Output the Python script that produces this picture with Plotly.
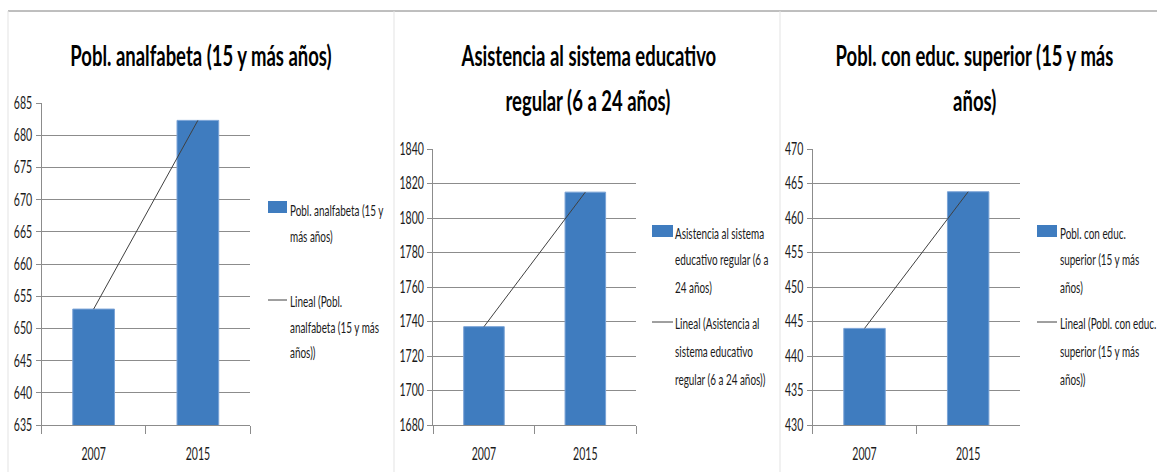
import numpy as np
import plotly.graph_objects as go

# ---------------- data ----------------
categories = ["2007", "2015"]

titles = [
    ["Pobl. analfabeta (15 y más años)"],
    ["Asistencia al sistema educativo", "regular (6 a 24 años)"],
    ["Pobl. con educ. superior (15 y más", "años)"],
]

analfabeta = [653.0, 682.3]
asistencia = [1737.0, 1815.0]
superior = [444.0, 463.8]

series_values = [analfabeta, asistencia, superior]

bar_legend_lines = [
    ["Pobl. analfabeta (15 y", "más años)"],
    ["Asistencia al sistema", "educativo regular (6 a", "24 años)"],
    ["Pobl. con educ.", "superior (15 y más", "años)"],
]
trend_legend_lines = [
    ["Lineal (Pobl.", "analfabeta (15 y más", "años))"],
    ["Lineal (Asistencia al", "sistema educativo", "regular (6 a 24 años))"],
    ["Lineal (Pobl. con educ.", "superior (15 y más", "años))"],
]

y_ranges = [[635, 685], [1680, 1840], [430, 470]]
y_dticks = [5, 20, 5]

# ---------------- layout helpers ----------------
W, H = 1157, 472
FONT = "Lato, Liberation Sans, Arial, sans-serif"
BAR = "#3F7CBF"
GRID = "#8C8C8C"
TXT = "#1A1A1A"


def px(x):
    return x / W


def py(y):
    return 1 - y / H


x_doms = [(41.5, 250), (433.3, 636), (812.7, 1020)]
y_tops = [103, 149, 149]
y_bottom = 425

title_cx = [201, 588, 975]
title_ys = [[55], [55, 100], [55, 100]]

legend_sw_x = [(268, 287), (652, 673), (1037, 1057)]
legend_txt_x = [288, 673, 1058]
bar_sw_y = [(201, 213), (225, 237), (225, 237)]
bar_txt_y = [[210, 235], [232, 258, 286], [232, 258, 286]]
trend_sw_y = [300, 322, 322]
trend_txt_y = [[300, 326, 351], [322, 350, 378], [322, 350, 378]]

fig = go.Figure()
annotations = []
shapes = []

for i in range(3):
    sfx = "" if i == 0 else str(i + 1)
    xa, ya = "x" + sfx, "y" + sfx
    vals = series_values[i]

    fig.add_trace(go.Bar(
        x=categories, y=vals, xaxis=xa, yaxis=ya,
        marker=dict(color=BAR, line=dict(color="#7AA3D6", width=1)),
        showlegend=False, hoverinfo="x+y",
    ))

    # linear trend line fitted from the data
    xi = np.arange(len(categories))
    coef = np.polyfit(xi, np.array(vals, dtype=float), 1)
    trend = np.polyval(coef, xi)
    fig.add_trace(go.Scatter(
        x=categories, y=trend, xaxis=xa, yaxis=ya, mode="lines",
        line=dict(color="#404040", width=1), showlegend=False,
    ))

    fig.layout["xaxis" + sfx] = dict(
        domain=[px(x_doms[i][0]), px(x_doms[i][1])],
        anchor=ya, type="category", automargin=False,
        showline=True, linecolor=GRID, linewidth=1,
        showgrid=False, ticks="outside", tickson="boundaries",
        ticklen=8, tickcolor=GRID, ticklabelstandoff=14,
        tickfont=dict(family=FONT, size=17, color=TXT),
        fixedrange=True,
    )
    fig.layout["yaxis" + sfx] = dict(
        domain=[py(y_bottom), py(y_tops[i])],
        anchor=xa, range=y_ranges[i], dtick=y_dticks[i], tick0=y_ranges[i][0],
        automargin=False,
        showline=True, linecolor=GRID, linewidth=1,
        showgrid=True, gridcolor=GRID, gridwidth=1, zeroline=False,
        ticks="outside", ticklen=5, tickcolor=GRID,
        tickfont=dict(family=FONT, size=17, color=TXT),
        fixedrange=True,
    )

    for line, yy in zip(titles[i], title_ys[i]):
        annotations.append(dict(
            text="<b>" + line + "</b>", xref="paper", yref="paper",
            x=px(title_cx[i]), y=py(yy), xanchor="center", yanchor="middle",
            showarrow=False, font=dict(family=FONT, size=28, color="#000000"),
        ))

    shapes.append(dict(
        type="rect", xref="paper", yref="paper",
        x0=px(legend_sw_x[i][0]), x1=px(legend_sw_x[i][1]),
        y0=py(bar_sw_y[i][1]), y1=py(bar_sw_y[i][0]),
        fillcolor=BAR, line=dict(width=0),
    ))
    for line, yy in zip(bar_legend_lines[i], bar_txt_y[i]):
        annotations.append(dict(
            text=line, xref="paper", yref="paper", align="left",
            x=px(legend_txt_x[i]), y=py(yy), xanchor="left", yanchor="middle",
            showarrow=False, font=dict(family=FONT, size=16, color=TXT),
        ))
    shapes.append(dict(
        type="line", xref="paper", yref="paper",
        x0=px(legend_sw_x[i][0]), x1=px(legend_sw_x[i][1]),
        y0=py(trend_sw_y[i]), y1=py(trend_sw_y[i]),
        line=dict(color="#404040", width=1),
    ))
    for line, yy in zip(trend_legend_lines[i], trend_txt_y[i]):
        annotations.append(dict(
            text=line, xref="paper", yref="paper", align="left",
            x=px(legend_txt_x[i]), y=py(yy), xanchor="left", yanchor="middle",
            showarrow=False, font=dict(family=FONT, size=16, color=TXT),
        ))

shapes.append(dict(type="line", xref="paper", yref="paper",
                   x0=px(8), x1=1, y0=py(11), y1=py(11),
                   line=dict(color="#7F7F7F", width=1)))
for xv in (8, 394, 780):
    shapes.append(dict(type="line", xref="paper", yref="paper",
                       x0=px(xv), x1=px(xv), y0=py(11), y1=0,
                       line=dict(color="#E3E3E3", width=1)))

fig.update_layout(
    template="none",
    width=W, height=H, autosize=False,
    margin=dict(l=0, r=0, t=0, b=0, pad=0, autoexpand=False),
    paper_bgcolor="white", plot_bgcolor="white",
    bargap=0.6, showlegend=False,
    annotations=annotations, shapes=shapes,
    font=dict(family=FONT, color=TXT),
)

POST = """
document.documentElement.style.margin='0';
document.body.style.margin='0';
document.body.style.overflow='hidden';
var gd=document.getElementById('{plot_id}');
function squish(){
  gd.querySelectorAll('text').forEach(function(t){
    var tr=t.getAttribute('transform')||'';
    if(t.getAttribute('data-sqt')!==null && tr===t.getAttribute('data-sqt')) return;
    var fs=parseFloat(t.style.fontSize)||16;
    var S=(fs>=24)?0.66:0.62;
    var x=parseFloat(t.getAttribute('x'))||0;
    var nt=tr+' translate('+x+',0) scale('+S+',1) translate('+(-x)+',0)';
    t.setAttribute('transform',nt);
    t.setAttribute('data-sqt',nt);
  });
}
squish();
gd.on('plotly_afterplot', squish);
"""

fig.write_html("out.html", config={"responsive": False, "displayModeBar": False},
               post_script=POST)
